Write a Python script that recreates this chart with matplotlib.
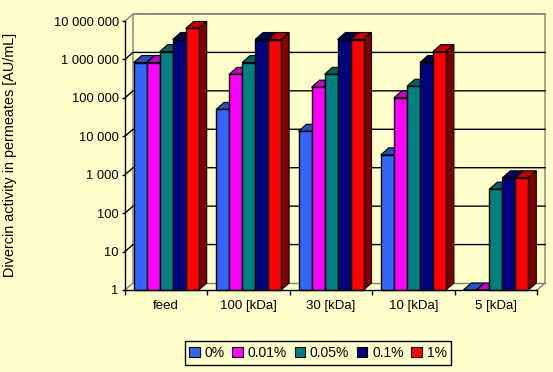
import matplotlib
matplotlib.use("Agg")
import matplotlib.pyplot as plt
from matplotlib.patches import Patch

plt.rcParams['font.family'] = ['Liberation Sans', 'DejaVu Sans']

groups = ["feed", "100 [kDa]", "30 [kDa]", "10 [kDa]", "5 [kDa]"]
series = ["0%", "0.01%", "0.05%", "0.1%", "1%"]
v_0 = [830000, 50000, 13500, 3300, 1]
v_001 = [830000, 410000, 190000, 100000, 1]
v_005 = [1600000, 830000, 410000, 200000, 420]
v_01 = [3300000, 3300000, 3300000, 830000, 830]
v_1 = [6400000, 3300000, 3300000, 1600000, 830]
values = [v_0, v_001, v_005, v_01, v_1]

front = ['#3366FF', '#FF00FF', '#008080', '#000080', '#FF0000']
top = ['#2A50C0', '#C000C0', '#006060', '#000060', '#C00000']
side = ['#1A3380', '#800080', '#004040', '#000040', '#800000']
bg = '#FFFFCC'
grid_ticks = [1, 10, 100, 1000, 10000, 100000, 1000000, 10000000]
tick_labels = ['1', '10', '100', '1 000', '10 000', '100 000', '1 000 000', '10 000 000']

W, H = 553, 372
fig = plt.figure(figsize=(W / 100, H / 100), dpi=100, facecolor=bg)
ax = fig.add_axes([125 / W, 1 - 290 / H, 412 / W, 269 / H], facecolor=bg)
ax.set_yscale('log')
ax.set_xlim(0, 5)
ax.set_ylim(1, 1e7)

# depth of the fake 3d, in data units (8 px across, 7 px up)
dx = 8 / 82.4
dy = 10 ** (7 / 38.4)

# back wall and floor
gray = '#808080'
ax.plot([0, dx, dx, 5 + dx, 5 + dx, 5], [1, dy, 1e7 * dy, 1e7 * dy, dy, 1],
        color=gray, lw=1, clip_on=False, zorder=1)
ax.plot([dx, 5 + dx], [dy, dy], color=gray, lw=1, clip_on=False, zorder=1)
for g in grid_ticks[1:]:
    col = gray if g == 1e7 else 'black'
    ax.plot([0, dx, 5 + dx], [g, g * dy, g * dy], color=col, lw=1, clip_on=False, zorder=1)

# bars, left to right so the later ones sit on top
bar_w = 65 / 5 / 82.4
start = (1 - 5 * bar_w) / 2
z = 2
for g in range(len(groups)):
    for s in range(len(series)):
        x0 = g + start + s * bar_w
        x1 = x0 + bar_w
        v = values[s][g]
        ax.fill([x0, x1, x1 + dx, x0 + dx], [v, v, v * dy, v * dy], facecolor=top[s],
                edgecolor='black', lw=0.8, clip_on=False, zorder=z)
        ax.fill([x1, x1 + dx, x1 + dx, x1], [1, dy, v * dy, v], facecolor=side[s],
                edgecolor='black', lw=0.8, clip_on=False, zorder=z)
        if v > 1:
            ax.bar(x0, v, width=bar_w, bottom=1, align='edge', color=front[s],
                   edgecolor='black', lw=1, clip_on=False, zorder=z)
        z += 1

for sp in ['top', 'right']:
    ax.spines[sp].set_visible(False)
for sp in ['left', 'bottom']:
    ax.spines[sp].set_linewidth(1)
    ax.spines[sp].set_zorder(200)

ax.set_yticks(grid_ticks)
ax.set_yticklabels(tick_labels)
ax.minorticks_off()
ax.tick_params(axis='y', length=2.5, width=1, pad=2, labelsize=9.3)
ax.set_xticks(range(6))
ax.set_xticklabels([])
ax.tick_params(axis='x', length=3.5, width=1)
ax.set_xticks([i + 0.5 for i in range(5)], minor=True)
ax.set_xticklabels(groups, minor=True, fontsize=9.5)
ax.tick_params(axis='x', which='minor', length=0, pad=7)

fig.text(10.5 / W, 1 - 155 / H, "Divercin activity in permeates [AU/mL]", rotation=90,
         ha='center', va='center', fontsize=10.4)

handles = [Patch(facecolor=c, edgecolor='black', lw=0.8) for c in front]
leg = fig.legend(handles, series, ncol=5, loc='center', bbox_to_anchor=(318 / W, 1 - 353 / H),
                 fontsize=10, frameon=True, fancybox=False, facecolor=bg, edgecolor='black',
                 framealpha=1, handlelength=0.75, handleheight=0.75, handletextpad=0.35,
                 columnspacing=0.55, borderpad=0.35)
leg.get_frame().set_linewidth(1)

fig.savefig('out.png', dpi=100, facecolor=bg)
plt.close(fig)
